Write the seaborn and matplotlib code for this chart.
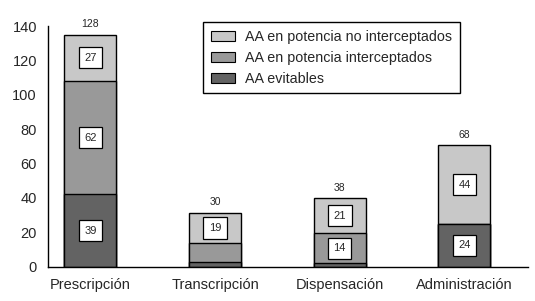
import matplotlib
matplotlib.use("Agg")
import matplotlib.pyplot as plt
import seaborn as sns
import pandas as pd
from matplotlib.patches import Patch

categories = ["Prescripción", "Transcripción", "Dispensación", "Administración"]
# bar segment heights as drawn
evitables = [42, 2.5, 2, 25]
interceptados = [66, 11, 17.5, 0]
no_interceptados = [27, 18, 20.5, 45.5]
# printed labels
lab_evitables = ["39", None, None, "24"]
lab_interceptados = ["62", None, "14", None]
lab_no_interceptados = ["27", "19", "21", "44"]
totals = ["128", "30", "38", "68"]
series_names = ["AA en potencia no interceptados", "AA en potencia interceptados", "AA evitables"]
colors = ["#c8c8c8", "#999999", "#636363"]

sns.set_style("white")
plt.rcParams["font.family"] = ["Liberation Sans", "DejaVu Sans"]

fig = plt.figure(figsize=(5.35, 3.01), dpi=100)
ax = fig.add_axes([48 / 535, 1 - 266.7 / 301, (528 - 48) / 535, (266.7 - 26) / 301])

c1 = evitables
c2 = [a + b for a, b in zip(evitables, interceptados)]
c3 = [a + b for a, b in zip(c2, no_interceptados)]
df = pd.DataFrame({"cat": categories, "c1": c1, "c2": c2, "c3": c3})

w = 0.417
for col, color in zip(["c3", "c2", "c1"], colors):
    sns.barplot(data=df, x="cat", y=col, color=color, width=w, edgecolor="black",
                linewidth=1, saturation=1, ax=ax, zorder=2)

ax.set_xlim(-0.34, 3.51)
ax.set_ylim(0, 140)
ax.set_yticks(range(0, 141, 20))
ax.set_xlabel("")
ax.set_ylabel("")
for s in ["top", "right"]:
    ax.spines[s].set_visible(False)
for s in ["left", "bottom"]:
    ax.spines[s].set_color("black")
    ax.spines[s].set_linewidth(1)
ax.tick_params(axis="y", direction="out", length=6, width=1, color="black", labelsize=10.5, pad=2)
ax.tick_params(axis="x", which="major", length=0, labelsize=10.5, pad=8)
ax.set_xticks([0.5, 1.5, 2.5], minor=True)
ax.tick_params(axis="x", which="minor", direction="out", length=9, width=1, color="black")

bbox = dict(boxstyle="square,pad=0.5", fc="white", ec="black", lw=0.9)
for i in range(4):
    segs = [(0, c1[i], lab_evitables[i]), (c1[i], c2[i], lab_interceptados[i]),
            (c2[i], c3[i], lab_no_interceptados[i])]
    for lo, hi, lab in segs:
        if lab:
            ax.text(i, (lo + hi) / 2, lab, ha="center", va="center", fontsize=8,
                    bbox=bbox, zorder=5)
    ax.annotate(totals[i], (i, c3[i]), xytext=(0, 7.5), textcoords="offset points",
                ha="center", va="center", fontsize=7.5, annotation_clip=False)

handles = [Patch(facecolor=c, edgecolor="black", linewidth=0.8) for c in colors]
leg = fig.legend(handles, series_names, loc="upper left",
                 bbox_to_anchor=(203 / 535, 1 - 22 / 301), fontsize=10.3,
                 frameon=True, fancybox=False, edgecolor="black", framealpha=1,
                 handlelength=1.7, handleheight=0.72, handletextpad=0.72,
                 labelspacing=0.48, borderpad=0.55, borderaxespad=0)
leg.get_frame().set_linewidth(1)

fig.savefig("out.png", dpi=100)
